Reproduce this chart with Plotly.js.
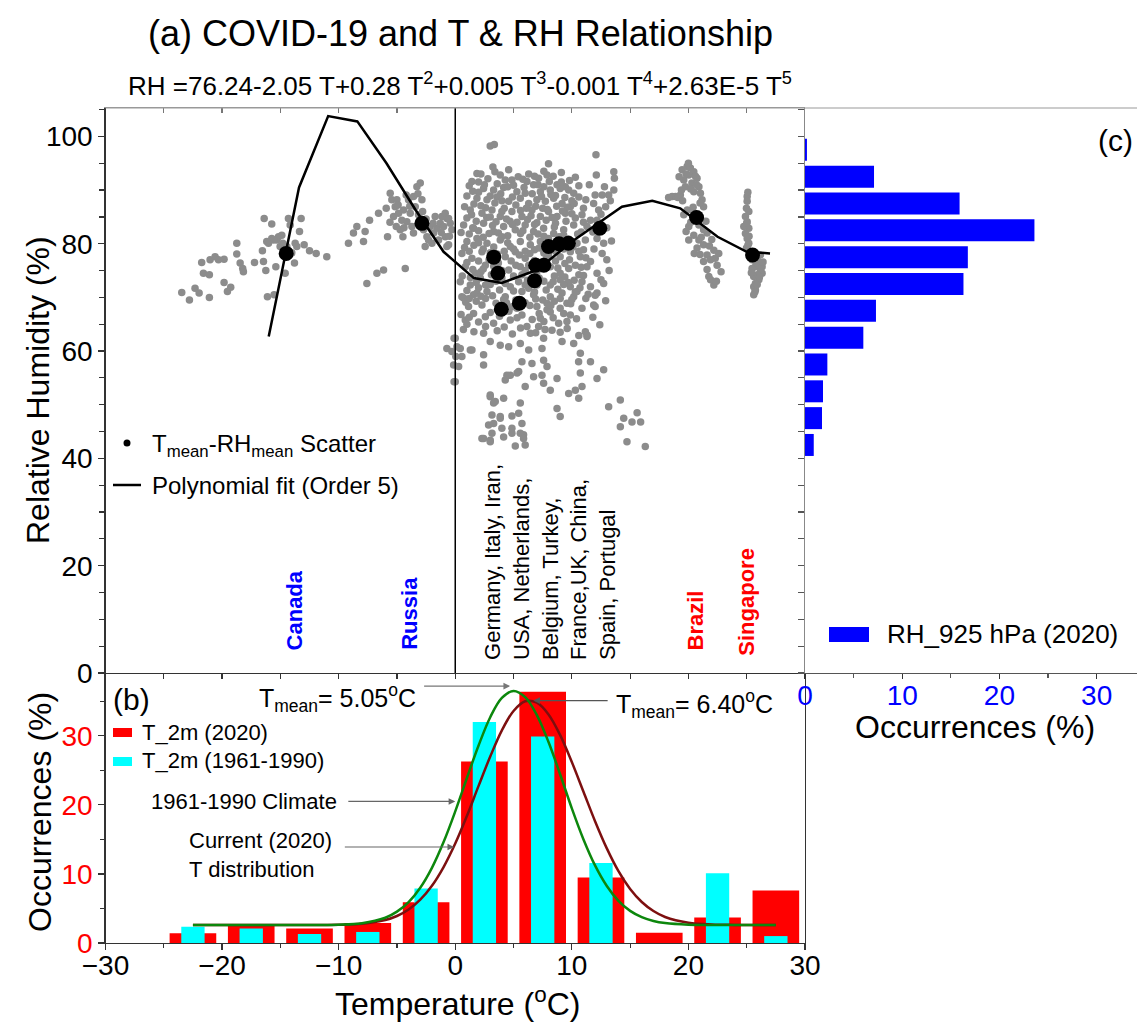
<!DOCTYPE html>
<html><head><meta charset="utf-8">
<script src="https://cdn.plot.ly/plotly-3.0.1.min.js"></script>
<style>html,body{margin:0;padding:0;background:#fff;}#chart{width:1137px;height:1026px;}</style>
</head><body><div id="chart"></div>
<script>
// ---------------- DATA ----------------
// Panel (a): gray scatter points [T, RH]
const canadaPts = [[-23.46,70.9],[-22.80,69.5],[-22.32,71.7],[-21.97,70.8],[-21.09,70.0],[-21.75,76.5],[-21.60,74.5],[-21.09,74.2],[-21.03,77.0],[-20.60,77.6],[-20.31,77.0],[-19.83,77.1],[-19.83,72.8],[-19.54,71.1],[-19.26,71.9],[-18.74,80.1],[-18.74,78.1],[-18.45,76.4],[-18.23,75.4],[-18.17,74.8],[-17.22,76.5],[-16.54,78.7],[-16.45,76.7],[-16.39,84.7],[-16.25,75.0],[-16.17,80.4],[-16.11,70.1],[-15.74,83.7],[-15.74,81.0],[-15.54,70.5],[-15.39,75.7],[-15.31,80.7],[-15.16,81.3],[-15.02,79.5],[-14.88,81.6],[-14.79,80.1],[-14.59,74.5],[-14.45,79.5],[-14.31,84.7],[-14.16,83.5],[-14.02,78.3],[-13.79,76.4],[-13.73,80.1],[-13.59,79.5],[-13.36,82.3],[-13.22,84.7],[-12.96,79.8],[-12.50,78.7],[-11.93,78.2],[-11.02,77.6],[-15.59,80.7],[-16.02,80.1]];
const russiaPts = [[-9.16,80.1],[-8.73,82.0],[-8.44,83.2],[-7.87,80.4],[-7.73,82.3],[-7.58,72.6],[-7.35,84.4],[-6.72,74.5],[-6.58,85.7],[-6.15,75.1],[-5.92,86.6],[-5.81,81.3],[-5.58,89.4],[-5.44,88.2],[-5.29,85.1],[-5.15,86.9],[-5.06,83.2],[-5.01,88.2],[-4.86,85.7],[-4.72,82.6],[-4.58,84.4],[-4.43,86.3],[-4.29,75.4],[-4.21,89.1],[-4.15,84.1],[-4.01,88.2],[-3.86,85.7],[-3.72,83.2],[-3.58,88.8],[-3.43,86.9],[-3.29,90.6],[-3.15,85.4],[-3.00,91.3],[-2.86,88.2],[-2.72,82.6],[-2.58,79.5],[-2.43,81.3],[-2.29,80.7],[-2.15,83.2],[-2.00,80.1],[-1.86,82.0],[-1.72,85.1],[-1.57,82.9],[-1.43,80.7],[-1.29,83.8],[-1.14,85.1],[-1.00,83.2],[-0.86,81.3],[-0.72,84.7],[-0.57,79.8],[-0.43,83.8],[-0.29,82.6],[-4.49,81.3],[-3.58,82.0],[-0.86,85.7],[-0.57,84.7],[-0.72,79.5],
[-4.9,87.2],[-3.9,87.0],[-3.2,89.3],[-2.5,84.6],[-1.9,83.8],[-1.2,82.1],[-0.5,81.4],[-2.8,86.0],[-4.4,83.0],[-5.6,84.0]];
const europePts = [[3.0,98.2],[3.35,98.5],[12.07,96.6],[8.0,94.9],[3.23,94.3],[4.58,93.8],[1.86,93.1],[2.2,93.0],[12.1,92.8],[13.6,93.4],[13.65,92.2],[3.86,92.8],
[1.43,91.6],[4.29,91.9],[4.86,91.9],[6.15,91.6],[7.15,92.2],[7.87,92.8],[8.07,91.6],[8.73,91.0],[9.44,90.6],[6.72,91.0],
[2.43,90.3],[3.29,90.0],[4.15,90.5],[5.29,89.7],[6.0,89.4],[7.3,89.7],[8.15,90.0],[9.0,90.3],[9.73,90.0],[10.16,89.4],[10.6,88.7],[13.6,90.0],[13.16,89.1],[12.6,89.1],[12.0,89.1],
[1.86,88.5],[2.72,88.2],[3.58,88.7],[4.58,87.9],[5.58,88.5],[6.3,87.5],[7.0,88.2],[7.73,87.9],[8.44,88.5],[9.16,87.5],[9.87,86.9],[11.87,87.5],[12.3,86.3],
[1.29,86.3],[2.29,85.7],[3.15,86.3],[3.86,85.1],[4.86,86.0],[5.72,85.1],[6.58,86.3],[7.3,85.1],[8.0,86.0],[8.73,85.1],[9.44,85.7],[10.87,85.4],[11.6,84.4],
[0.72,83.5],[1.57,82.9],[2.43,83.8],[3.29,82.3],[4.15,83.2],[5.15,82.6],[6.0,83.5],[6.72,82.3],[7.58,82.9],[8.44,81.9],[9.3,82.6],[10.16,83.5],[11.3,83.2],[12.16,84.4],
[1.0,80.4],[1.86,81.0],[2.72,80.1],[3.86,80.7],[4.72,79.5],[5.58,80.4],[6.44,79.8],[7.3,80.4],[8.15,79.5],[10.44,80.1],[11.16,80.7],[12.16,81.0],[12.73,80.1],
[0.57,78.2],[1.43,77.3],[2.29,78.5],[4.29,77.6],[5.15,78.5],[6.0,77.3],[9.0,77.6],[9.87,78.5],[10.73,77.6],[11.6,76.7],[12.6,78.2],[13.0,77.0],
[0.86,75.7],[1.72,74.5],[2.58,76.0],[4.58,75.1],[5.58,75.7],[5.72,74.2],[8.15,75.7],[9.0,74.5],[9.73,75.4],[10.6,74.2],[11.3,75.7],[12.16,74.5],
[0.43,72.9],[1.29,72.3],[2.15,73.6],[4.72,72.0],[5.44,72.9],[8.15,72.3],[9.0,73.3],[9.87,72.0],[10.87,72.9],[11.6,72.0],[12.73,72.6],
[0.57,70.1],[1.57,70.5],[2.72,71.1],[4.29,70.1],[5.72,71.1],[8.15,70.1],[9.16,70.8],[10.16,70.1],[12.16,70.8],
[0.72,69.9],[1.86,70.8],[4.15,69.6],[6.72,70.5],[9.0,69.8],[10.44,71.1],[12.0,70.4],[1.14,68.3],[2.29,68.6],[7.0,68.3],[7.87,68.9],[9.58,68.9],[10.87,68.0],[11.87,68.6],
[0.86,65.8],[1.57,67.0],[2.58,66.4],[3.29,65.2],[4.72,65.8],[5.72,66.7],[6.15,64.6],[7.3,66.1],[8.15,67.3],[8.87,65.2],[9.58,65.5],[9.87,66.7],[11.16,63.6],[11.3,62.7],[7.15,64.6],[7.87,67.7],[5.29,68.0],
[0.0,62.4],[-0.29,59.9],[0.43,60.5],[1.43,60.2],[2.43,63.3],[3.0,61.8],[3.86,61.1],[4.58,60.8],[5.58,61.4],[6.3,60.2],[6.44,63.3],[7.58,62.4],[9.16,61.8],[10.16,61.4],[11.3,63.0],[12.0,68.3],
[-0.14,57.4],[0.57,59.0],[2.43,57.4],[5.72,58.0],[6.58,57.7],[7.44,60.5],[7.58,58.3],[10.58,58.0],[10.73,59.6],[11.6,58.0],[12.73,56.5],[7.87,57.1],
[0.0,54.3],[4.29,54.6],[4.72,55.5],[5.44,56.2],[6.72,55.2],[7.44,55.5],[7.58,54.0],[8.73,54.9],[10.73,55.9],[12.16,54.9],[6.0,53.4],[8.15,52.7],
[3.0,51.5],[3.29,50.3],[4.15,51.2],[5.58,50.3],[9.73,52.1],[10.3,52.7],[10.87,53.4],[10.59,51.2],[13.16,49.6],[14.16,50.9],[8.73,49.3],[9.0,47.8],[15.6,48.5],[14.45,47.5],[15.16,46.8],[15.9,46.8],
[3.15,48.1],[3.86,47.8],[4.86,47.9],[5.44,48.4],[2.86,46.2],[4.0,45.6],[5.72,46.5],[2.29,43.7],[3.0,43.4],[4.86,44.7],[5.86,44.4],[6.0,42.5],[5.15,42.3],[14.16,45.9],[14.73,43.1],[16.3,42.2],
[-0.72,60.5],[0.05,59.0],[0.29,57.1],[-0.1,54.3],[-0.1,62.4],[0.14,60.8],[1.29,60.2],[2.43,59.3],[4.43,55.5],[5.3,55.9],[3.0,51.8],[3.43,50.6],[3.86,47.5],[3.29,46.5],[3.15,44.7],[2.43,43.7],[3.0,43.1],[4.15,44.0],[4.86,45.6],[5.58,44.7],[5.86,43.7],
[1.2,90.8],[2.0,91.5],[2.8,92.1],[3.6,91.2],[4.5,90.6],[5.4,92.5],[6.3,93.0],[7.1,91.0],[7.6,93.5],[8.4,92.6],[9.1,93.3],[9.8,91.8],[10.3,92.4],
[1.0,88.9],[2.0,89.6],[3.0,88.9],[3.9,89.3],[4.9,88.7],[5.9,90.5],[6.6,89.3],[7.6,90.6],[8.6,89.0],[9.4,88.6],[10.6,90.8],
[0.8,86.9],[1.6,87.4],[2.6,86.7],[3.4,87.6],[4.2,86.6],[5.2,87.2],[6.1,86.6],[6.9,87.0],[7.9,86.4],[8.7,87.0],[9.6,86.8],[10.2,87.5],[11.0,86.6],
[1.0,84.8],[1.8,84.2],[2.7,84.9],[3.5,84.1],[4.4,84.6],[5.3,84.0],[6.2,84.5],[7.0,83.9],[7.8,84.4],[8.6,83.8],[9.5,84.2],[10.3,84.8],[11.0,84.0],
[0.5,82.1],[1.2,81.8],[2.0,82.4],[2.9,81.9],[3.7,82.0],[4.5,81.5],[5.6,81.9],[6.4,81.2],[7.1,81.8],[8.0,81.0],[8.9,81.3],[9.7,80.9],[10.5,81.8],
[0.8,79.3],[1.6,79.7],[2.4,79.0],[3.3,79.4],[4.2,78.6],[5.0,79.0],[6.0,78.6],[6.8,78.9],[7.6,78.3],[8.6,78.6],[9.3,79.0],[10.1,79.4],[11.0,78.9],
[1.0,76.5],[2.0,76.8],[2.9,77.0],[3.7,76.4],[4.8,76.8],[6.3,76.0],[6.8,76.9],[7.8,77.2],[8.6,76.8],[9.4,76.3],[10.3,76.0],[11.2,77.4],
[0.6,74.0],[1.3,73.7],[2.2,74.8],[3.1,74.2],[4.0,73.6],[5.0,74.0],[6.2,73.2],[7.2,73.6],[8.5,74.0],[9.4,73.8],[10.2,73.2],[11.0,74.1],
[1.0,71.3],[2.0,71.8],[3.0,72.4],[3.8,71.4],[5.0,71.2],[6.3,71.7],[7.0,72.3],[7.8,71.4],[8.8,71.5],[9.7,72.8],[10.7,71.8],
[0.9,69.1],[1.8,69.3],[2.6,69.8],[3.5,68.9],[4.4,69.0],[5.2,69.5],[6.0,69.0],[6.9,69.7],[7.5,69.5],[8.5,69.3],[9.9,68.8],[11.2,69.8],
[0.5,66.8],[1.2,66.3],[2.0,65.4],[3.0,67.2],[3.8,66.5],[4.6,67.4],[5.3,66.2],[6.6,65.9],[7.6,65.5],[8.4,66.2],[9.3,67.0],[10.4,66.0],
[0.7,64.0],[1.6,63.6],[3.6,63.8],[4.9,63.2],[5.6,64.3],[8.3,63.9],[9.6,64.2],[10.6,62.9],
[11.5,91.0],[12.8,90.6],[13.3,88.0],[11.2,88.2],[12.5,85.5],[13.0,83.0],[11.8,82.2],[12.9,86.9],[13.4,80.5],[11.9,79.0],[13.2,75.0],[12.5,73.3],[11.4,70.6],[12.9,69.4],[11.8,66.3],[12.4,64.9],
[1.5,89.8],[2.5,91.0],[3.4,93.4],[4.0,88.0],[5.0,90.9],[5.8,92.0],[6.8,92.6],[7.4,88.8],[8.2,89.2],[9.1,91.5],[10.0,88.0],
[1.4,85.4],[2.2,87.1],[3.0,85.0],[4.0,86.0],[4.7,84.2],[5.6,86.2],[6.5,85.2],[7.5,86.6],[8.3,84.9],[9.2,86.1],[10.0,85.6],
[1.5,83.0],[2.4,81.2],[3.2,83.4],[4.0,81.3],[4.9,83.6],[5.8,82.4],[6.8,83.6],[7.6,81.4],[8.5,83.1],[9.3,81.6],[10.8,82.2],
[1.2,78.6],[2.0,80.2],[3.0,78.3],[3.6,78.1],[4.5,80.2],[5.5,77.9],[6.4,78.2],[7.2,79.2],[8.0,77.9],[8.9,80.0],[10.6,78.6],
[1.5,75.2],[2.4,75.3],[3.3,75.8],[4.0,75.0],[5.2,76.0],[6.0,75.0],[7.0,74.8],[7.5,75.9],[8.8,75.5],[9.8,77.0],[10.8,75.6],
[1.8,72.8],[2.6,72.3],[3.5,73.0],[4.3,72.6],[6.0,72.3],[6.8,71.0],[7.6,73.0],[8.4,72.9],[9.3,72.4],[10.3,71.0],
[1.2,69.8],[2.2,70.2],[3.2,70.3],[4.0,67.8],[4.8,68.2],[6.4,68.5],[7.2,67.0],[8.2,68.5],[9.0,68.0],[10.0,69.6],
[1.0,65.0],[2.6,64.6],[4.2,64.5],[6.9,63.4],[7.7,64.0],[9.0,63.5]];
const brazilPts = [[19.46,93.8],[19.89,94.4],[20.17,94.1],[20.46,93.4],[20.03,92.8],[20.74,92.2],[19.6,91.9],[20.3,91.3],[20.9,90.6],[19.74,90.6],[20.46,89.7],[21.03,89.4],[19.31,89.1],[18.6,88.8],[18.9,88.8],[19.1,88.6],[21.17,88.2],[21.3,86.9],[19.9,86.3],[20.46,85.7],[19.6,85.4],[20.03,83.2],[21.3,82.6],[21.6,82.0],[20.46,81.6],[20.9,80.7],[20.03,80.7],[21.3,79.8],[22.18,78.8],[20.74,79.2],[21.6,77.9],[22.3,77.3],[21.3,76.7],[22.46,76.0],[21.75,73.9],[22.18,72.3],[21.9,73.3],
[19.2,92.5],[19.8,93.0],[20.6,92.6],[20.2,90.2],[19.5,88.0],[21.0,87.6],[20.8,85.0],[20.2,84.0],[21.5,84.2],[19.8,82.3],[21.1,81.2],[21.8,79.6],[22.0,80.8],[20.5,78.2],[21.0,78.0],[22.6,78.2],[21.6,75.2],[22.8,74.8],[22.4,73.0],[18.3,88.6],
[20.0,95.0],[20.7,91.0],[19.4,90.0],[20.9,83.5],[21.9,77.0],[20.4,86.8]];
const singaporePts = [[25.04,88.8],[25.04,87.9],[24.98,86.6],[24.89,85.1],[25.04,84.1],[25.18,82.9],[24.89,81.9],[25.04,81.0],[25.18,80.1],[24.98,79.2],[25.32,78.5],[25.75,77.6],[25.9,77.0],[26.04,76.0],[25.75,75.7],[26.18,75.1],[26.32,74.5],[25.9,74.2],[25.6,73.9],[26.04,73.3],[25.75,72.6],[25.6,72.0],[25.75,71.4],[25.46,77.0],[26.18,77.9],[24.75,83.2],[25.18,86.0],[25.46,75.4],[26.32,75.7],
[25.1,89.6],[25.0,83.8],[25.2,81.4],[25.1,79.7],[25.5,78.0],[25.8,76.5],[26.1,73.8],[25.9,72.4],[25.7,71.0],[25.4,74.6],[26.4,76.6],[25.6,70.5]];

// Country mean points (black)
const meanT  = [-14.5, -2.86, 3.3, 3.66, 3.95, 5.5, 6.8, 6.9, 7.6, 8.0, 8.9, 9.7, 12.4, 20.7, 25.5];
const meanRH = [78.2, 83.8, 77.5, 74.5, 67.8, 68.9, 73.1, 76.0, 76.0, 79.5, 80.0, 80.1, 82.9, 84.9, 77.9];

// Polynomial fit (order 5) line as drawn
const polyT  = [-16.0,-13.4,-10.9,-8.4,-5.9,-3.4,-1.0,1.6,4.0,7.0,10.2,14.3,16.9,19.3,22.5,25.0,27.0];
const polyRH = [62.7,90.5,103.8,102.8,95.0,86.3,78.5,73.6,72.7,75.1,80.7,86.9,88.0,86.6,81.3,78.5,78.2];

// Panel (b): temperature histograms
const tBins  = [-22.5,-17.5,-12.5,-7.5,-2.5,2.5,7.5,12.5,17.5,22.5,27.5];
const t2020  = [1.4, 2.5, 2.1, 2.9, 5.9, 26.3, 36.4, 9.5, 1.5, 3.7, 7.6];
const t1961  = [2.35, 2.1, 1.3, 1.6, 7.9, 32.0, 29.9, 11.6, 0, 10.1, 1.0];

// Panel (b): Gaussian fit curves
const fitT    = [-22.5,-18,-14,-12,-10,-8,-6,-5,-4,-3,-2,-1,0,1,2,3,4,5,6,7,8,9,10,11,12,13,14,15,16,17,18,20,22,24,27.5];
const fit1961 = [2.6,2.6,2.6,2.61,2.65,2.87,3.66,4.54,5.93,8.01,10.89,14.62,19.06,23.9,28.6,32.7,35.5,36.5,35.6,33.0,29.1,24.4,19.5,15.0,11.2,8.26,6.1,4.65,3.74,3.19,2.89,2.66,2.61,2.6,2.6];
const fit2020 = [2.6,2.6,2.6,2.61,2.64,2.79,3.33,3.91,4.85,6.27,8.29,11.0,14.4,18.4,22.75,27.0,30.8,33.6,35.0,34.8,33.1,30.1,26.2,21.9,17.6,13.7,10.4,7.83,5.94,4.63,3.77,2.94,2.68,2.62,2.6];

// Panel (c): RH histogram
const rhBins = [97.5, 92.5, 87.5, 82.5, 77.5, 72.5, 67.5, 62.5, 57.5, 52.5, 47.5, 42.5];
const rhOcc  = [0.2, 7.1, 15.9, 23.6, 16.75, 16.3, 7.3, 6.0, 2.3, 1.85, 1.75, 0.9];

// ---------------- PLOT ----------------
const W = 1137, H = 1026;
const px = v => v / W, py = v => 1 - v / H;
const FONT = 'Liberation Sans, Arial, Helvetica, sans-serif';
const grayPts = canadaPts.concat(russiaPts, europePts, brazilPts, singaporePts);

const traces = [
  {type:'scatter', mode:'markers', x: grayPts.map(p=>p[0]), y: grayPts.map(p=>p[1]), xaxis:'x', yaxis:'y',
   marker:{size:7.5, color:'#8c8c8c'}, hoverinfo:'skip'},
  {type:'scatter', mode:'lines', x: polyT, y: polyRH, xaxis:'x', yaxis:'y', line:{color:'#000', width:2.5}},
  {type:'scatter', mode:'markers', x: meanT, y: meanRH, xaxis:'x', yaxis:'y', marker:{size:15, color:'#000'}},
  {type:'scatter', mode:'markers', x: [], y: [], xaxis:'x4', yaxis:'y', hoverinfo:'skip'},
  {type:'bar', x: tBins, y: t2020, width: 4, xaxis:'x2', yaxis:'y2', marker:{color:'#ff0000', line:{width:0}}},
  {type:'bar', x: tBins, y: t1961, width: 2, xaxis:'x2', yaxis:'y2', marker:{color:'#00ffff', line:{width:0}}},
  {type:'scatter', mode:'lines', x: fitT, y: fit2020, xaxis:'x2', yaxis:'y2', line:{color:'#7d0f0f', width:2.5, shape:'spline'}},
  {type:'scatter', mode:'lines', x: fitT, y: fit1961, xaxis:'x2', yaxis:'y2', line:{color:'#0c870c', width:2.5, shape:'spline'}},
  {type:'bar', orientation:'h', x: rhOcc, y: rhBins, width: 4.1, xaxis:'x3', yaxis:'y3', marker:{color:'#0000ff', line:{width:0}}}
];

const xL = px(105.5), xR = px(805);
const yTopTop = py(108), yMid = py(673), yBot = py(943);
const tickF = {family: FONT, size: 28, color: '#000'};
const baseAx = {showgrid:false, zeroline:false, showline:true, linecolor:'#333', linewidth:1.2, tickcolor:'#333', tickwidth:1.2, fixedrange:true};

const layout = {
  width: W, height: H, margin:{l:0, r:0, t:0, b:0}, paper_bgcolor:'#fff', plot_bgcolor:'rgba(0,0,0,0)',
  showlegend:false, barmode:'overlay', font:{family: FONT, color:'#000'},
  xaxis: Object.assign({}, baseAx, {domain:[xL, xR], anchor:'y', range:[-30,30], side:'bottom', ticks:'outside', ticklen:5, tick0:0, dtick:5, showticklabels:false}),
  xaxis4: Object.assign({}, baseAx, {overlaying:'x', anchor:'y', side:'top', range:[-30,30], ticks:'inside', ticklen:5, tick0:0, dtick:5, showticklabels:false, linecolor:'#999', tickcolor:'#777'}),
  yaxis: Object.assign({}, baseAx, {domain:[yMid, yTopTop], anchor:'x', range:[0,105.3], ticks:'outside', ticklen:6, tick0:0, dtick:20, tickfont:tickF,
    minor:{dtick:5, ticks:'outside', ticklen:5, tickcolor:'#333'}}),
  xaxis2: Object.assign({}, baseAx, {domain:[xL, xR], anchor:'y2', range:[-30,30], ticks:'outside', ticklen:6, tick0:0, dtick:10, tickfont:tickF, ticklabelstandoff:-9,
    minor:{dtick:5, ticks:'outside', ticklen:4, tickcolor:'#333'}}),
  yaxis2: Object.assign({}, baseAx, {domain:[yBot, yMid], anchor:'x2', range:[0,39.1], ticks:'outside', ticklen:6, tick0:0, dtick:10, mirror:true,
    tickfont:{family:FONT, size:28, color:'#ff0000'}, minor:{dtick:5, ticks:'outside', ticklen:4, tickcolor:'#333'}}),
  xaxis3: Object.assign({}, baseAx, {domain:[xR, 1], anchor:'y3', range:[0,34.15], ticks:'outside', ticklen:5, tick0:0, dtick:10, linecolor:'#555', ticklabelstandoff:-8,
    tickfont:{family:FONT, size:28, color:'#0000ff'}, minor:{dtick:5, ticks:'outside', ticklen:4, tickcolor:'#555'}}),
  yaxis3: Object.assign({}, baseAx, {domain:[yMid, yTopTop], anchor:'x3', range:[0,105.3], ticks:'outside', ticklen:6, tick0:0, dtick:5, showticklabels:false, linecolor:'#888', tickcolor:'#555'}),
  shapes: [
    {type:'line', xref:'x', yref:'y', x0:0, x1:0, y0:0, y1:105.3, line:{color:'#000', width:1.5}},
    // top frame line of panels (a) and (c)
    {type:'line', xref:'paper', yref:'paper', x0:xL, x1:1, y0:yTopTop, y1:yTopTop, line:{color:'#999', width:1.2}},
    // legend (a)
    {type:'circle', xref:'paper', yref:'paper', x0:px(123.5), x1:px(130.5), y0:py(446.5), y1:py(439.5), fillcolor:'#000', line:{width:0}},
    {type:'line', xref:'paper', yref:'paper', x0:px(113), x1:px(141), y0:py(485), y1:py(485), line:{color:'#000', width:2.5}},
    // legend (b)
    {type:'rect', xref:'paper', yref:'paper', x0:px(113), x1:px(132), y0:py(737), y1:py(728), fillcolor:'#ff0000', line:{width:0}},
    {type:'rect', xref:'paper', yref:'paper', x0:px(113), x1:px(132), y0:py(766), y1:py(757), fillcolor:'#00ffff', line:{width:0}},
    // legend (c)
    {type:'rect', xref:'paper', yref:'paper', x0:px(829), x1:px(869), y0:py(642), y1:py(627), fillcolor:'#0000ff', line:{width:0}}
  ],
  annotations: []
};

const A = layout.annotations;
function txt(text, x, y, size, opts) {
  A.push(Object.assign({text:text, x:x, y:y, xref:'paper', yref:'paper', showarrow:false, xanchor:'center', yanchor:'middle',
    font:{family:FONT, size:size, color:'#000'}}, opts || {}));
}
// titles
txt('(a) COVID-19 and T &amp; RH Relationship', px(460), py(33), 36);
txt('RH =76.24-2.05 T+0.28 T<sup>2</sup>+0.005 T<sup>3</sup>-0.001 T<sup>4</sup>+2.63E-5 T<sup>5</sup>', px(460), py(84), 26);
txt('(c)', px(1115), py(140), 30);
txt('(b)', px(131), py(699), 30);
// axis titles
txt('Relative Humidity (%)', px(38), py(390), 32, {textangle:-90});
txt('Occurrences (%)', px(40), py(812), 32, {textangle:-90});
txt('Temperature (<sup>o</sup>C)', px(457), py(1002), 32);
txt('Occurrences (%)', px(975), py(727), 32);
// legend (a)
txt('T<sub>mean</sub>-RH<sub>mean</sub> Scatter', px(150), py(446), 24, {xanchor:'left'});
txt('Polynomial fit (Order 5)', px(150), py(485), 24, {xanchor:'left'});
// legend (b)
txt('T_2m (2020)', px(140), py(732), 22, {xanchor:'left'});
txt('T_2m (1961-1990)', px(140), py(760), 22, {xanchor:'left'});
// legend (c)
txt('RH_925 hPa (2020)', px(885), py(634), 26, {xanchor:'left'});

// country labels (data coords of panel a)
function country(text, x, y, color) {
  A.push({text:text, x:x, y:y, xref:'x', yref:'y', showarrow:false, textangle:-90, xanchor:'center', yanchor:'bottom', align:'left',
    font:{family:FONT, size:22, color:color}});
}
country('<b>Canada</b>', -13.8, 3.9, '#0000ff');
country('<b>Russia</b>', -3.95, 3.9, '#0000ff');
country('Germany, Italy, Iran,<br>USA, Netherlands,<br>Belgium, Turkey,<br>France,UK, China,<br>Spain, Portugal', 8.1, 2.0, '#000');
country('<b>Brazil</b>', 20.6, 3.9, '#ff0000');
country('<b>Singapore</b>', 25.0, 2.8, '#ff0000');

// panel (b) notes
function note(text, x, y, size, opts) {
  A.push(Object.assign({text:text, x:x, y:y, xref:'x2', yref:'y2', showarrow:false, xanchor:'center', yanchor:'middle',
    font:{family:FONT, size:size, color:'#000'}}, opts || {}));
}
note('T<sub>mean</sub>= 5.05<sup>o</sup>C', -3.2, 35.5, 25, {xanchor:'right'});
note('T<sub>mean</sub>= 6.40<sup>o</sup>C', 13.6, 34.6, 25, {xanchor:'left'});
note('1961-1990 Climate', -10.0, 20.5, 22, {xanchor:'right'});
note('Current (2020)<br>T distribution', -23.0, 12.8, 22, {xanchor:'left', align:'left'});
function arrow(x, y, ax, ay, color) {
  A.push({text:'', x:x, y:y, ax:ax, ay:ay, xref:'x2', yref:'y2', axref:'x2', ayref:'y2', showarrow:true,
    arrowhead:2, arrowsize:1.1, arrowwidth:1.2, arrowcolor:color});
}
arrow(4.7, 37.2, -2.8, 37.2, '#777');
arrow(6.7, 35.1, 13.2, 35.1, '#555');
arrow(0.0, 20.5, -9.3, 20.5, '#666');
arrow(-0.1, 13.9, -9.6, 13.9, '#666');

Plotly.newPlot('chart', traces, layout, {staticPlot:true, displayModeBar:false});
</script></body></html>
